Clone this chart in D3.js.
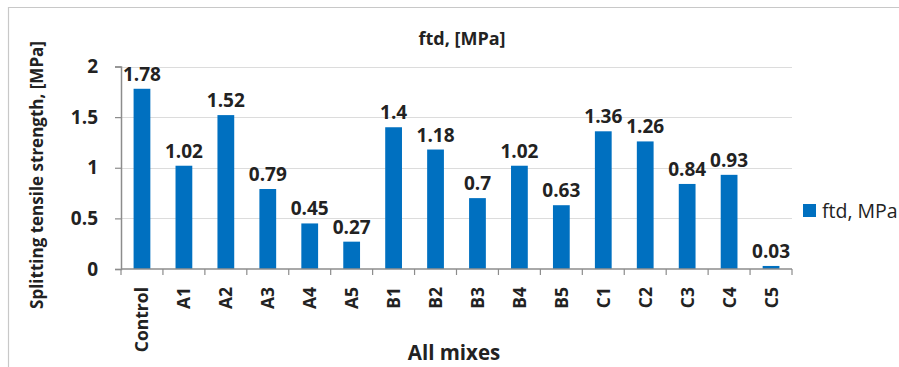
<!DOCTYPE html>
<html>
<head>
<meta charset="utf-8">
<script src="https://cdn.jsdelivr.net/npm/d3@7"></script>
<style>
  html, body { margin: 0; padding: 0; background: #fff; }
  svg { display: block; font-family: "Open Sans", "Liberation Sans", sans-serif; }
</style>
</head>
<body>
<svg id="chart" width="899" height="367"></svg>
<script>
// Splitting tensile strength per mix
const categories = ["Control", "A1", "A2", "A3", "A4", "A5", "B1", "B2", "B3", "B4", "B5", "C1", "C2", "C3", "C4", "C5"];
const ftdValues = [1.78, 1.02, 1.52, 0.79, 0.45, 0.27, 1.4, 1.18, 0.7, 1.02, 0.63, 1.36, 1.26, 0.84, 0.93, 0.03];
const yTicks = [0, 0.5, 1, 1.5, 2];
const seriesName = "ftd, MPa";
const chartTitle = "ftd, [MPa]";
const xTitle = "All mixes";
const yTitle = "Splitting tensile strength, [MPa]";

const svg = d3.select("#chart");
const plot = { left: 121, right: 792, top: 66.5, bottom: 269 };
const barColor = "#0070C0";
const axisColor = "#8c8c8c";
const textColor = "#222";

// chart frame
svg.append("path")
  .attr("d", "M8.5,367 L8.5,7.5 L899,7.5")
  .attr("fill", "none").attr("stroke", "#c8c8c8").attr("stroke-width", 1.2);

const x = d3.scaleBand().domain(categories).range([plot.left, plot.right]).paddingInner(0.6).paddingOuter(0.3);
const xCell = d3.scaleBand().domain(categories).range([plot.left, plot.right]);
const y = d3.scaleLinear().domain([0, 2]).range([plot.bottom, plot.top]);

// gridlines
svg.append("g").selectAll("line").data(yTicks.filter(t => t > 0)).join("line")
  .attr("x1", plot.left).attr("x2", plot.right)
  .attr("y1", d => Math.round(y(d)) + 0.5).attr("y2", d => Math.round(y(d)) + 0.5)
  .attr("stroke", "#dcdcdc").attr("stroke-width", 1.2);

// bars
svg.append("g").selectAll("rect").data(categories).join("rect")
  .attr("x", d => x(d))
  .attr("width", x.bandwidth())
  .attr("y", (d, i) => y(ftdValues[i]))
  .attr("height", (d, i) => y(0) - y(ftdValues[i]))
  .attr("fill", barColor);

// value labels
svg.append("g").selectAll("text").data(categories).join("text")
  .attr("x", d => x(d) + x.bandwidth() / 2)
  .attr("y", (d, i) => y(ftdValues[i]) - 8)
  .attr("text-anchor", "middle")
  .attr("font-size", 19).attr("font-weight", "bold").attr("fill", textColor)
  .text((d, i) => String(ftdValues[i]));

// y axis
const yAxis = svg.append("g").attr("transform", `translate(${plot.left},0)`)
  .call(d3.axisLeft(y).tickValues(yTicks).tickSize(6).tickPadding(17).tickFormat(d3.format("")));
yAxis.select(".domain").attr("stroke", axisColor).attr("stroke-width", 1.5);
yAxis.selectAll(".tick line").attr("stroke", axisColor).attr("stroke-width", 1.2);
yAxis.selectAll(".tick text").attr("font-size", 19).attr("font-weight", "bold").attr("fill", textColor)
  .attr("font-family", "'Open Sans', sans-serif");

// x axis with boundary tick marks
const xg = svg.append("g");
xg.append("line").attr("x1", plot.left).attr("x2", plot.right)
  .attr("y1", plot.bottom).attr("y2", plot.bottom)
  .attr("stroke", axisColor).attr("stroke-width", 1.5);
const bounds = categories.map(c => xCell(c)).concat([plot.right]);
xg.selectAll("line.tk").data(bounds).join("line").attr("class", "tk")
  .attr("x1", d => d).attr("x2", d => d)
  .attr("y1", plot.bottom).attr("y2", plot.bottom + 6)
  .attr("stroke", axisColor).attr("stroke-width", 1.2);
xg.selectAll("text").data(categories).join("text")
  .attr("transform", d => `translate(${x(d) + x.bandwidth() / 2 + 6.5},${plot.bottom + 18}) rotate(-90)`)
  .attr("text-anchor", "end")
  .attr("font-size", 17.5).attr("font-weight", "bold").attr("fill", textColor)
  .text(d => d);

// titles
svg.append("text").attr("x", 462).attr("y", 45).attr("text-anchor", "middle")
  .attr("font-size", 18).attr("font-weight", "bold").attr("fill", textColor).text(chartTitle);
svg.append("text").attr("x", 454).attr("y", 360).attr("text-anchor", "middle")
  .attr("font-size", 20.5).attr("font-weight", "bold").attr("fill", textColor).text(xTitle);
svg.append("text").attr("transform", "translate(43,175) rotate(-90)").attr("text-anchor", "middle")
  .attr("font-size", 17).attr("font-weight", "bold").attr("fill", textColor).text(yTitle);

// legend
svg.append("rect").attr("x", 803).attr("y", 204).attr("width", 13).attr("height", 13).attr("fill", barColor);
svg.append("text").attr("x", 822).attr("y", 217.5).attr("font-size", 19.5).attr("fill", textColor).text(seriesName);
</script>
</body>
</html>
